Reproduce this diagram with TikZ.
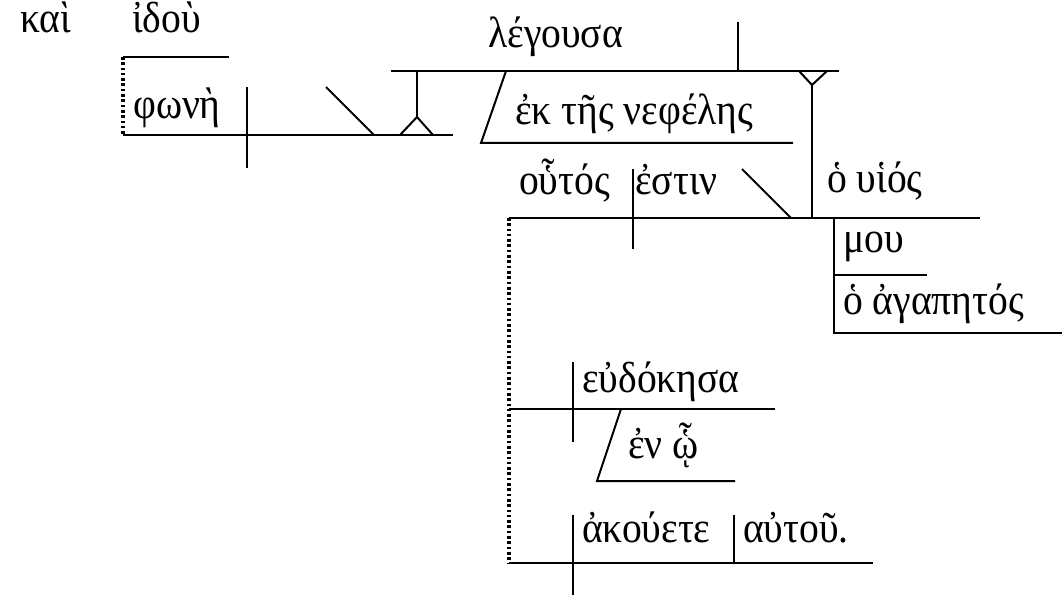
\documentclass[tikz,border=0pt]{standalone}
\usepackage{fontspec}
\setmainfont[FakeStretch=0.91]{Liberation Serif}
\begin{document}
\begin{tikzpicture}[x=1bp,y=-1bp,
  ln/.style={line width=2bp},
  dots/.style={line width=3.2bp,dash pattern=on 2.6bp off 2.7bp},
  wd/.style={anchor=base west,inner sep=0pt,font=\fontsize{43.5bp}{46bp}\selectfont}]
\useasboundingbox (0,0) rectangle (1062,595);
% texts
\node[wd] (kai) at (20,33) {καὶ};
\node[wd] (idou) at (132,33) {ἰδοὺ};
\node[wd] (fwnh) at (133,119) {φωνὴ};
\node[wd] (legousa) at (488,48) {λέγουσα};
\node[wd] (nefelhs) at (515,125) {ἐκ τῆς νεφέλης};
\node[wd] (outos) at (519,195) {οὗτός};
\node[wd] (estin) at (635,195) {ἐστιν};
\node[wd] (uios) at (827,193) {ὁ υἱός};
\node[wd] (mou) at (843,253) {μου};
\node[wd] (agaphtos) at (843,315) {ὁ ἀγαπητός};
\node[wd] (eudokhsa) at (582,392) {εὐδόκησα};
\node[wd] (enw) at (628,458) {ἐν ᾧ};
\node[wd] (akouete) at (582,542) {ἀκούετε};
\node[wd] (autou) at (743,542) {αὐτοῦ.};
% coordinates
\coordinate (a1) at (123,57); \coordinate (a2) at (229,57);
\coordinate (b1) at (123,135); \coordinate (b2) at (453,135);
\coordinate (c1) at (247,87); \coordinate (c2) at (247,168);
\coordinate (d1) at (326,87); \coordinate (d2) at (374,135);
\coordinate (f0) at (417,71); \coordinate (f1) at (417,117);
\coordinate (f2) at (400,135); \coordinate (f3) at (433,135);
\coordinate (l1) at (391,71); \coordinate (l2) at (839,71);
\coordinate (v1) at (738,22); \coordinate (v2) at (738,71);
\coordinate (p1) at (506,71); \coordinate (p2) at (481,143); \coordinate (p3) at (793,143);
\coordinate (g1) at (799,71); \coordinate (g2) at (812,85); \coordinate (g3) at (827,71);
\coordinate (g4) at (812,218);
\coordinate (m1) at (509,218); \coordinate (m2) at (980,218);
\coordinate (m3) at (509,563);
\coordinate (s1) at (633,169); \coordinate (s2) at (633,249);
\coordinate (t1) at (742,169); \coordinate (t2) at (791,218);
\coordinate (u1) at (834,218); \coordinate (u2) at (834,333); \coordinate (u3) at (1062,333);
\coordinate (u4) at (834,275); \coordinate (u5) at (927,275);
\coordinate (e1) at (573,362); \coordinate (e2) at (573,442);
\coordinate (e3) at (509,409); \coordinate (e4) at (775,409);
\coordinate (q1) at (621,409); \coordinate (q2) at (597,481); \coordinate (q3) at (735,481);
\coordinate (k1) at (573,515); \coordinate (k2) at (573,595);
\coordinate (k3) at (734,515); \coordinate (k4) at (734,563);
\coordinate (k5) at (873,563);
% lines
\draw[ln] (a1) -- (a2);
\draw[dots] (a1) -- (b1);
\draw[ln] (b1) -- (b2);
\draw[ln] (c1) -- (c2);
\draw[ln] (d1) -- (d2);
\draw[ln] (f0) -- (f1);
\draw[ln] (f2) -- (f1) -- (f3);
\draw[ln] (l1) -- (l2);
\draw[ln] (v1) -- (v2);
\draw[ln] (p1) -- (p2) -- (p3);
\draw[ln] (g1) -- (g2) -- (g3);
\draw[ln] (g2) -- (g4);
\draw[ln] (m1) -- (m2);
\draw[dots] (m1) -- (m3);
\draw[ln] (s1) -- (s2);
\draw[ln] (t1) -- (t2);
\draw[ln] (u1) -- (u2) -- (u3);
\draw[ln] (u4) -- (u5);
\draw[ln] (e1) -- (e2);
\draw[ln] (e3) -- (e4);
\draw[ln] (q1) -- (q2) -- (q3);
\draw[ln] (k1) -- (k2);
\draw[ln] (k3) -- (k4);
\draw[ln] (m3) -- (k5);
\end{tikzpicture}
\end{document}
